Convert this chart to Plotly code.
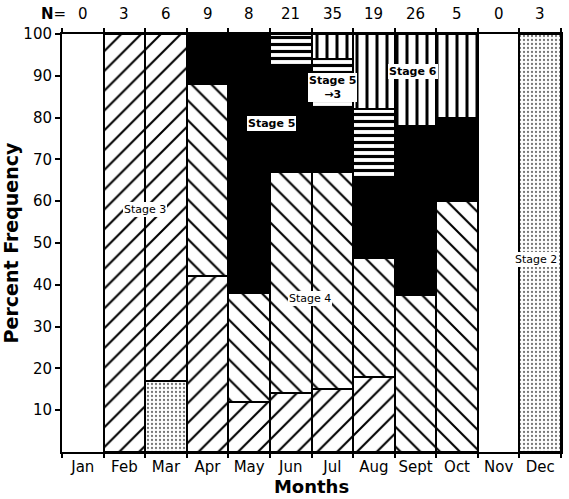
import plotly.graph_objects as go

months = ["Jan", "Feb", "Mar", "Apr", "May", "Jun", "Jul", "Aug", "Sept", "Oct", "Nov", "Dec"]
n_counts = [0, 3, 6, 9, 8, 21, 35, 19, 26, 5, 0, 3]

# segment heights (percent), stacked bottom to top
stage2 = [None, None, 17, None, None, None, None, None, None, None, None, 100]
stage3 = [None, 100, 83, 42, 12, 14, 15, 18, None, None, None, None]
stage4 = [None, None, None, 46, 26, 53, 52, 28.5, 37.5, 60, None, None]
stage5 = [None, None, None, 12, 62, 25.5, 15, 19, 40.5, 20, None, None]
stage5to3 = [None, None, None, None, None, 7.5, 12, 16.5, None, None, None, None]
stage6 = [None, None, None, None, None, None, 6, 18, 22, 20, None, None]

y_ticks = [10, 20, 30, 40, 50, 60, 70, 80, 90, 100]

FONT = "DejaVu Sans, sans-serif"

series = [
    ("Stage 2", stage2, dict(shape=".", size=4, solidity=0.25, fgcolor="#777", fgopacity=1, bgcolor="white")),
    ("Stage 3", stage3, dict(shape="/", size=14, solidity=0.15, fgcolor="black", fgopacity=1, bgcolor="white")),
    ("Stage 4", stage4, dict(shape="\\", size=14, solidity=0.15, fgcolor="black", fgopacity=1, bgcolor="white")),
    ("Stage 5", stage5, None),
    ("Stage 5 → 3", stage5to3, dict(shape="-", size=7, solidity=0.45, fgcolor="black", fgopacity=1, bgcolor="white")),
    ("Stage 6", stage6, dict(shape="|", size=10, solidity=0.3, fgcolor="black", fgopacity=1, bgcolor="white")),
]

fig = go.Figure()
for name, vals, pat in series:
    marker = dict(line=dict(color="black", width=2), opacity=1)
    if pat is None:
        marker["color"] = "black"
    else:
        marker["color"] = "white"
        marker["pattern"] = pat
    fig.add_trace(go.Bar(x=months, y=vals, name=name, marker=marker, showlegend=False))

# boundary tick marks axis
fig.add_trace(go.Scatter(x=[None], y=[None], xaxis="x2", showlegend=False))

annotations = []
# N= labels
annotations.append(dict(x=-0.5, y=1.0, xref="x", yref="paper", yshift=20, xshift=6, yanchor="middle",
                        text="<b>N</b>=", showarrow=False, xanchor="right",
                        font=dict(size=15, family=FONT, color="black")))
for i, n in enumerate(n_counts):
    annotations.append(dict(x=i, y=1.0, xref="x", yref="paper", yshift=20, yanchor="middle",
                            text=str(n), showarrow=False,
                            font=dict(size=15, family=FONT, color="black")))

def stage_label(x, y, text, size=10, border=False):
    return dict(x=x, y=y, xref="x", yref="y", text=text, showarrow=False,
                font=dict(size=size, family=FONT, color="black"), bgcolor="white",
                bordercolor="black" if border else "rgba(0,0,0,0)", borderwidth=1 if border else 0,
                borderpad=1)

annotations += [
    stage_label(1.5, 58, "Stage 3", size=11),
    stage_label(4.53, 78.5, "<b>Stage 5</b>", size=11, border=True),
    stage_label(5.46, 36.8, "Stage 4", size=11),
    stage_label(6.0, 87.3, "<b>Stage 5</b><br><b>→3</b>", size=11),
    stage_label(7.95, 91, "<b>Stage 6</b>", size=11),
    stage_label(10.9, 46, "Stage 2", size=11),
]

fig.update_layout(
    width=569, height=499,
    margin=dict(l=62, r=6, t=34, b=47),
    barmode="stack", bargap=0,
    plot_bgcolor="white", paper_bgcolor="white",
    font=dict(family=FONT, color="black"),
    xaxis=dict(type="category", categoryorder="array", categoryarray=months,
               range=[-0.5, 11.5], ticks="", showline=True, linecolor="black", linewidth=2,
               mirror=True, tickfont=dict(size=15, family=FONT),
               title=dict(text="<b>Months</b>", font=dict(size=18, family=FONT), standoff=2)),
    xaxis2=dict(overlaying="x", range=[-0.5, 11.5], tickvals=[i - 0.5 for i in range(13)],
                ticks="outside", ticklen=5, tickwidth=1.5, tickcolor="black",
                showticklabels=False, showgrid=False, zeroline=False, mirror="allticks",
                side="bottom", anchor="y"),
    yaxis=dict(range=[0, 100], tickvals=y_ticks, ticks="outside", ticklen=5, tickwidth=1.5,
               tickcolor="black", showline=True, linecolor="black", linewidth=2, mirror=True,
               showgrid=False, zeroline=False, tickfont=dict(size=15, family=FONT),
               title=dict(text="<b>Percent Frequency</b>", font=dict(size=19, family=FONT), standoff=0)),
    annotations=annotations,
)

fig.write_html("out.html", config={"displayModeBar": False},
               post_script="document.body.style.margin='0';document.body.style.overflow='hidden';")
